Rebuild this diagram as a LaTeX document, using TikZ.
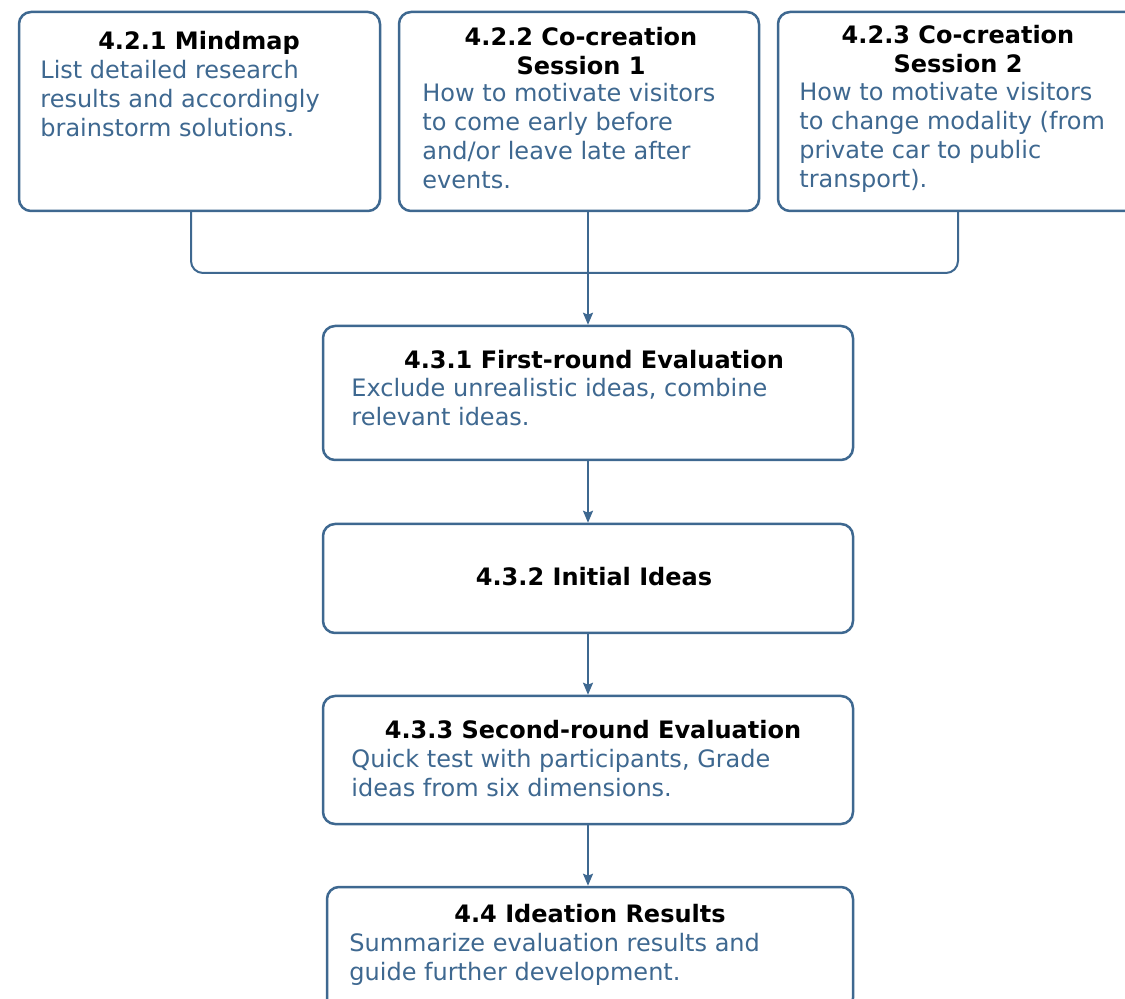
\documentclass[tikz,border=0pt]{standalone}
\usepackage{fontspec}
\setmainfont{DejaVu Sans}
\usetikzlibrary{arrows.meta}
\definecolor{flowblue}{RGB}{62,104,144}
\begin{document}
\begin{tikzpicture}[x=0.5pt,y=-0.5pt,
  box/.style={draw=flowblue, line width=1.25pt, rounded corners=6pt, fill=white, inner sep=0pt},
  conn/.style={draw=flowblue, line width=1pt},
  flow/.style={conn, -{Stealth[length=6pt,width=5pt,inset=1pt]}},
  title/.style={font=\fontsize{12pt}{14.5pt}\selectfont\bfseries, text=black, inner sep=0pt, anchor=base, align=center},
  body/.style={font=\fontsize{12pt}{14.5pt}\selectfont, text=flowblue, inner sep=0pt, anchor=base west, align=left}]
\clip (0,0) rectangle (1125,999);

% top row: ideation sources
\node[box, minimum width=180.5pt, minimum height=99.5pt] (b1) at (199.5,111.5) {};
\node[box, minimum width=180pt, minimum height=99.5pt] (b2) at (579,111.5) {};
\node[box, minimum width=181pt, minimum height=99.5pt] (b3) at (959,111.5) {};

% evaluation chain
\node[box, minimum width=265pt, minimum height=67pt] (c1) at (588,393) {};
\node[box, minimum width=265pt, minimum height=54.5pt] (c2) at (588,578.5) {};
\node[box, minimum width=265pt, minimum height=64pt] (c3) at (588,760) {};
\node[box, minimum width=263pt, minimum height=61.5pt] (c4) at (590,948.5) {};

% texts (multi-line nodes sit on the baseline of their last line)
\node[title] (t1) at (199,50) {4.2.1 Mindmap};
\node[body] (d1) at (40,137) {List detailed research\\results and accordingly\\brainstorm solutions.};

\node[title] (t2) at (581,75) {4.2.2 Co-creation\\Session 1};
\node[body] (d2) at (422,189) {How to motivate visitors\\to come early before\\and/or leave late after\\events.};

\node[title] (t3) at (958,73) {4.2.3 Co-creation\\Session 2};
\node[body] (d3) at (799,188) {How to motivate visitors\\to change modality (from\\private car to public\\transport).};

\node[title] (t4) at (594,369) {4.3.1 First-round Evaluation};
\node[body] (d4) at (351,426) {Exclude unrealistic ideas, combine\\relevant ideas.};

\node[title] (t5) at (594,586) {4.3.2 Initial Ideas};

\node[title] (t6) at (593,739) {4.3.3 Second-round Evaluation};
\node[body] (d6) at (351,797) {Quick test with participants, Grade\\ideas from six dimensions.};

\node[title] (t7) at (590,922) {4.4 Ideation Results};
\node[body] (d7) at (349,980) {Summarize evaluation results and\\guide further development.};

% connectors
\coordinate (j1) at (191,273);
\coordinate (j2) at (588,273);
\coordinate (j3) at (958,273);
\draw[conn, rounded corners=6pt] (b1.south -| j1) -- (j1) -- (j3) -- (b3.south -| j3);
\draw[flow] (b2.south -| j2) -- (c1.north);
\draw[flow] (c1.south) -- (c2.north);
\draw[flow] (c2.south) -- (c3.north);
\draw[flow] (c3.south) -- (c4.north -| c3.south);
\end{tikzpicture}
\end{document}
